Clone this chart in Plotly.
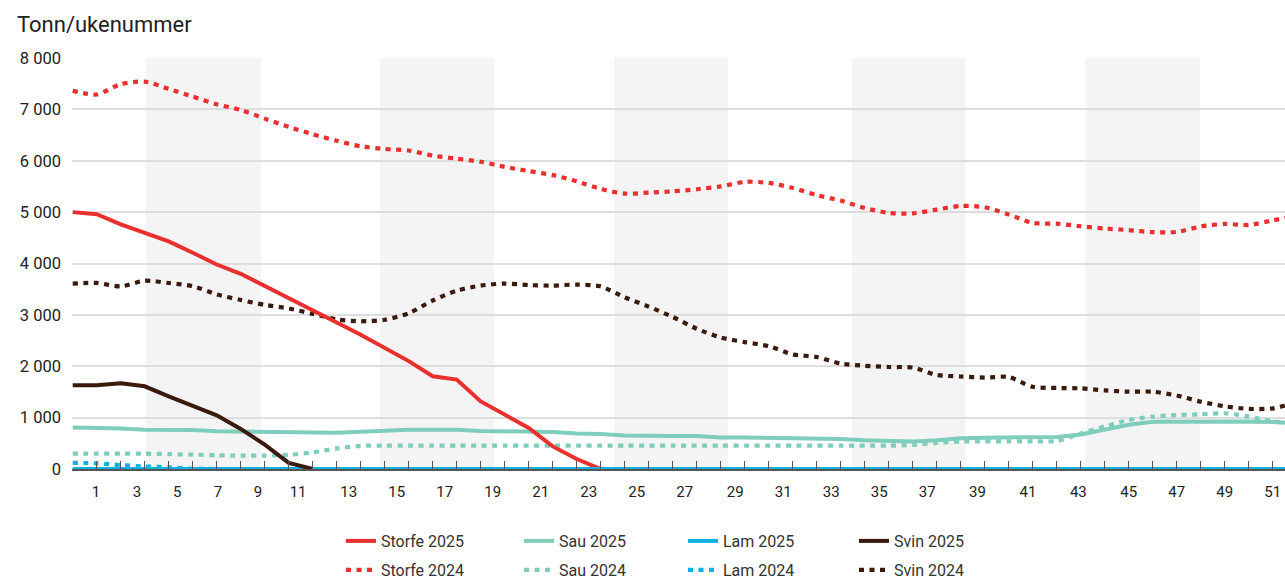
import plotly.graph_objects as go

# ---------------- data ----------------
WEEKS = list(range(1, 53))  # data points, one per week slot

STORFE_2025 = [5000, 4960, 4760, 4600, 4430, 4210, 3980, 3800, 3560, 3310, 3090, 2850,
               2615, 2360, 2100, 1805, 1740, 1315, 1060, 800, 440, 195, 0]
SVIN_2025 = [1630, 1630, 1670, 1610, 1415, 1235, 1045, 780, 475, 120, 0]
SAU_2025 = [810, 805, 790, 765, 765, 760, 735, 730, 715, 705, 705, 705, 725, 750, 765, 765,
            765, 740, 735, 735, 720, 690, 680, 650, 640, 640, 640, 615, 615, 610, 590, 590,
            585, 560, 545, 535, 560, 600, 610, 615, 620, 625, 670, 765, 860, 920, 925, 925,
            925, 925, 915, 890]
LAM_2025 = [0] * 52

STORFE_2024 = [7360, 7290, 7490, 7540, 7400, 7250, 7100, 6990, 6820, 6660, 6515, 6390,
               6280, 6230, 6200, 6100, 6040, 5980, 5880, 5800, 5720, 5600, 5450, 5360,
               5380, 5405, 5445, 5500, 5590, 5570, 5470, 5330, 5225, 5080, 4985, 4975,
               5050, 5120, 5095, 4955, 4790, 4775, 4725, 4680, 4650, 4610, 4615, 4720,
               4770, 4750, 4840, 4930]
SAU_2024 = [300, 300, 300, 298, 290, 280, 268, 260, 260, 275, 325, 400, 450, 455, 455, 455,
            455, 455, 455, 455, 455, 455, 455, 455, 455, 455, 455, 455, 455, 455, 455, 455,
            455, 455, 455, 470, 510, 535, 538, 538, 538, 545, 690, 830, 955, 1020, 1050,
            1065, 1085, 1020, 930, 880]
LAM_2024 = [120, 110, 75, 50, 30, 5, 0]
SVIN_2024 = [3610, 3622, 3555, 3665, 3620, 3560, 3400, 3290, 3195, 3125, 3020, 2910,
             2875, 2905, 3030, 3280, 3470, 3570, 3610, 3580, 3570, 3590, 3555, 3340,
             3160, 2960, 2730, 2560, 2470, 2390, 2230, 2180, 2050, 2010, 1985, 1975,
             1830, 1800, 1780, 1790, 1600, 1577, 1570, 1530, 1505, 1505, 1430, 1310,
             1220, 1170, 1180, 1300]

TICK_LABELS = ["1", "3", "5", "7", "9", "11", "13", "15", "17", "19", "21", "23", "25",
               "27", "29", "31", "33", "35", "37", "39", "41", "43", "45", "47", "49", "51"]
TICK_LABEL_POS = [1.97, 3.68, 5.35, 7.05, 8.72, 10.39, 12.5, 14.5, 16.5, 18.5, 20.5, 22.5,
                  24.5, 26.5, 28.6, 30.6, 32.6, 34.6, 36.6, 38.7, 40.8, 42.9, 45.0, 47.0,
                  49.0, 51.0]
SHADED = [(4.05, 8.85), (13.8, 18.55), (23.55, 28.3), (33.47, 38.2), (43.2, 47.97)]

# ---------------- style ----------------
RED = "#e8302e"
TEAL = "#7fcdbb"
BLUE = "#0fb1e3"
BROWN = "#3a1a0c"
DOT = "5px,5.5px"
FONT = "Roboto"

fig = go.Figure()


def add(name, values, color, dotted, legend):
    fig.add_trace(go.Scatter(
        x=WEEKS[:len(values)], y=values, name=name, mode="lines",
        line=dict(color=color, width=4.2 if dotted else 4, dash=DOT if dotted else "solid",
                  shape="spline" if dotted else "linear", smoothing=0.7),
        legend=legend, hoverinfo="skip"))


add("Sau 2025", SAU_2025, TEAL, False, "legend2")
add("Storfe 2024", STORFE_2024, RED, True, "legend5")
add("Sau 2024", SAU_2024, TEAL, True, "legend6")
add("Lam 2024", LAM_2024, BLUE, True, "legend7")
add("Svin 2024", SVIN_2024, BROWN, True, "legend8")
add("Storfe 2025", STORFE_2025, RED, False, "legend")
add("Lam 2025", LAM_2025, BLUE, False, "legend3")
add("Svin 2025", SVIN_2025, BROWN, False, "legend4")

# invisible helper trace so the label axis is drawn
fig.add_trace(go.Scatter(x=[TICK_LABEL_POS[0]], y=[0], xaxis="x2", mode="markers",
                         marker=dict(opacity=0), showlegend=False, hoverinfo="skip"))

XR = [0.97, 51.51]

shapes = [dict(type="rect", xref="x", yref="paper", x0=a, x1=b, y0=0, y1=1,
               fillcolor="#f4f4f4", line=dict(width=0), layer="below") for a, b in SHADED]

col_x = [341, 519, 683, 854]
row_y = [541, 570]
legends = {}
names = ["legend", "legend2", "legend3", "legend4", "legend5", "legend6", "legend7", "legend8"]
for k, nm in enumerate(names):
    r, c = divmod(k, 4)
    legends[nm] = dict(xref="container", yref="container", x=col_x[c] / 1285,
                       y=1 - row_y[r] / 579, xanchor="left", yanchor="middle",
                       orientation="h", bgcolor="rgba(0,0,0,0)",
                       font=dict(family=FONT, size=16, color="#333333"))

fig.update_layout(
    width=1285, height=579,
    margin=dict(l=72, r=0, t=58, b=110),
    paper_bgcolor="white", plot_bgcolor="white",
    font=dict(family=FONT, color="#222222"),
    separators=", ",
    showlegend=True,
    shapes=shapes,
    xaxis=dict(range=XR, tickmode="linear", tick0=1, dtick=1, ticks="inside", ticklen=8,
               tickcolor="#555555", tickwidth=1, showticklabels=False, showgrid=False,
               zeroline=False, showline=True, linecolor="#555555", linewidth=1.5,
               fixedrange=True),
    xaxis2=dict(range=XR, overlaying="x", anchor="y", side="bottom", tickmode="array",
                tickvals=TICK_LABEL_POS, ticktext=TICK_LABELS, ticks="", showgrid=False,
                zeroline=False, showline=False, ticklabelstandoff=12,
                tickfont=dict(family=FONT, size=15, color="#222222")),
    yaxis=dict(range=[0, 8000], tickmode="linear", tick0=0, dtick=1000, tickformat=",d",
               showgrid=True, gridcolor="#dddddd", gridwidth=1.5, zeroline=False,
               ticks="", ticklabelstandoff=10,
               tickfont=dict(family=FONT, size=16.5, color="#222222")),
    annotations=[dict(text="Tonn/ukenummer", xref="paper", yref="paper",
                      x=(15 - 72) / 1213, y=(469 - 24) / 411, xanchor="left",
                      yanchor="middle", showarrow=False,
                      font=dict(family=FONT, size=22, color="#222222"))],
    **legends,
)

fig.write_html("out.html", config={"displayModeBar": False},
               post_script="document.body.style.margin='0';document.body.style.overflow='hidden';")
